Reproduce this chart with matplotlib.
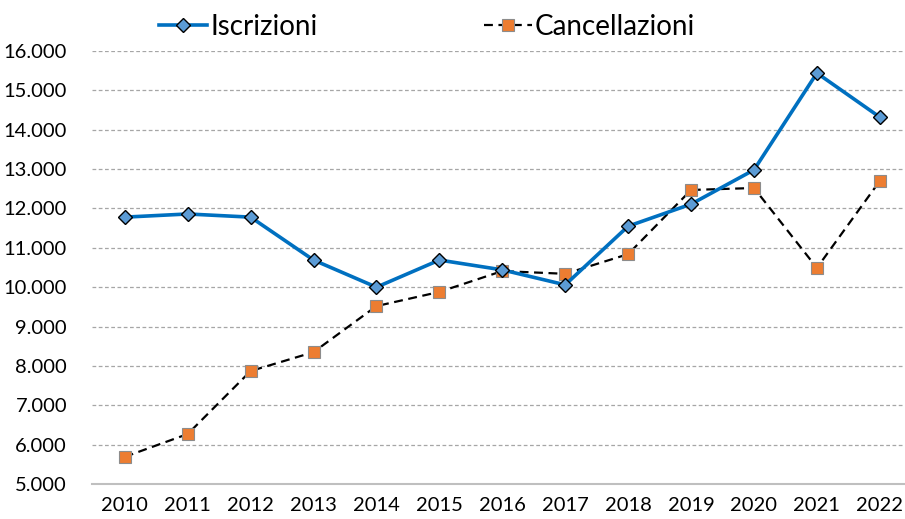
import matplotlib.pyplot as plt
from matplotlib.ticker import FuncFormatter

# Dati
anni = [2010, 2011, 2012, 2013, 2014, 2015, 2016, 2017, 2018, 2019, 2020, 2021, 2022]
iscrizioni = [11780, 11860, 11780, 10690, 10000, 10690, 10440, 10060, 11550, 12110, 12980, 15440, 14320]
cancellazioni = [5690, 6270, 7870, 8350, 9520, 9880, 10410, 10340, 10840, 12470, 12520, 10490, 12700]

plt.rcParams['font.family'] = ['Lato', 'DejaVu Sans']

fig = plt.figure(figsize=(9.05, 5.19), dpi=100)
ax = fig.add_axes([0.1017, 0.0674, 0.8983, 0.8343])

x = list(range(len(anni)))

ax.plot(x, iscrizioni, color='#0070C0', lw=2.6, marker='D', markersize=7,
        markerfacecolor='#5B9BD5', markeredgecolor='black', markeredgewidth=1,
        label='Iscrizioni', zorder=3)
ax.plot(x, cancellazioni, color='black', lw=1.6, ls=(0, (4, 2.5)), marker='s',
        markersize=9, markerfacecolor='#ED7D31', markeredgecolor='#8c8c8c',
        markeredgewidth=0.8, label='Cancellazioni', zorder=2)

ax.set_ylim(5000, 16000)
ax.set_yticks(range(5000, 16001, 1000))
ax.yaxis.set_major_formatter(FuncFormatter(lambda v, p: f'{int(v):,}'.replace(',', '.')))
ax.set_xlim(-0.52, 12.4)
ax.set_xticks(x)
ax.set_xticklabels([str(a) for a in anni])

ax.grid(axis='y', color='#a6a6a6', ls=(0, (3, 2)), lw=0.9)
ax.set_axisbelow(True)
for s in ['top', 'right', 'left']:
    ax.spines[s].set_visible(False)
ax.spines['bottom'].set_color('#bfbfbf')
ax.spines['bottom'].set_linewidth(1.5)
ax.tick_params(axis='y', length=0, labelsize=14.5, colors='black', pad=18)
ax.tick_params(axis='x', length=0, labelsize=14.5, colors='black', pad=9)

fig.legend(loc='center', bbox_to_anchor=(0.472, 0.948), ncol=2, frameon=False,
           fontsize=20, handlelength=1.73, handletextpad=0.1, columnspacing=6.0)

plt.savefig('out.png', dpi=100)
